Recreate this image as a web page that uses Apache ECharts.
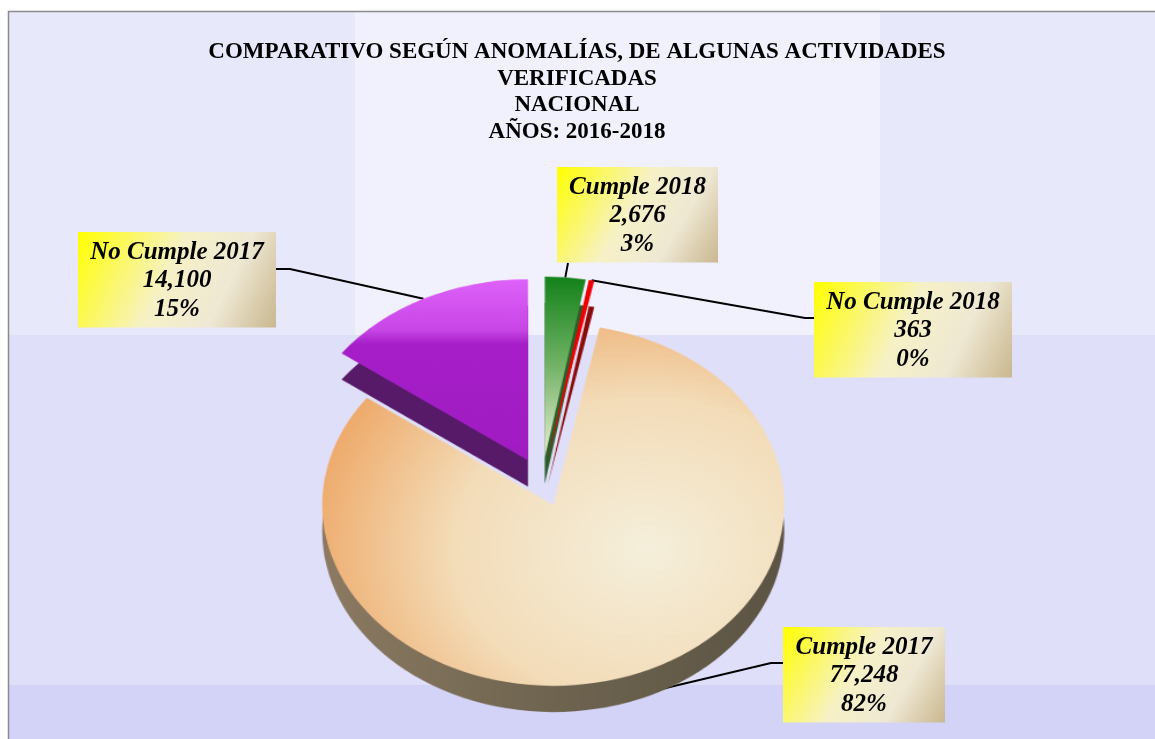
<!DOCTYPE html>
<html>
<head>
<meta charset="utf-8">
<script src="https://cdn.jsdelivr.net/npm/echarts@6/dist/echarts.min.js"></script>
<style>
  html, body { margin: 0; padding: 0; background: #fff; }
  #wrap { position: relative; width: 1155px; height: 739px; overflow: hidden; }
  #chartBg, #chartPie { position: absolute; left: 0; top: 0; width: 1155px; height: 739px; }
  /* el pastel se aplasta para dar la vista en perspectiva */
  #chartPie { transform-origin: 542px 482px; transform: scale(1.155, 0.905); pointer-events: none; }
</style>
</head>
<body>
<div id="wrap">
  <div id="chartBg"></div>
  <div id="chartPie"></div>
</div>
<script>
  // datos del grafico
  var titleLines = ['COMPARATIVO SEGÚN ANOMALÍAS, DE ALGUNAS ACTIVIDADES', 'VERIFICADAS', 'NACIONAL', 'AÑOS: 2016-2018'];
  var categories = ['Cumple 2018', 'No Cumple 2018', 'Cumple 2017', 'No Cumple 2017'];
  var values = [2676, 363, 77248, 14100];

  // geometria del pastel (en px)
  var center = [542, 482];
  var radius = 200;
  var offset = 27;
  var depth = 29;
  var scaleX = 1.155, scaleY = 0.905;

  // cajas de texto: [izq, arriba, ancho, alto]
  var boxes = [[557, 167, 161, 96], [814, 282, 198, 96], [783, 627, 162, 96], [78, 232, 198, 96]];

  var topColors = [
    new echarts.graphic.LinearGradient(0, 0, 0, 1, [
      { offset: 0, color: '#13821a' }, { offset: 0.5, color: '#74b468' }, { offset: 1, color: '#ecefd6' }
    ]),
    '#ee0000',
    new echarts.graphic.RadialGradient(0.7, 0.62, 0.85, [
      { offset: 0, color: '#f5efdb' }, { offset: 0.5, color: '#f3dcb8' }, { offset: 1, color: '#ec9a52' }
    ]),
    new echarts.graphic.LinearGradient(0, 0, 0, 1, [
      { offset: 0, color: '#de62fa' }, { offset: 0.28, color: '#c846e6' }, { offset: 0.36, color: '#a61ec8' }, { offset: 1, color: '#a01cc2' }
    ])
  ];
  var sideColors = ['#2c5e2c', '#8a0a0a',
    new echarts.graphic.LinearGradient(0, 0, 1, 0, [
      { offset: 0, color: '#8c7a62' }, { offset: 0.5, color: '#6e6450' }, { offset: 1, color: '#5c5444' }
    ]),
    '#561a68'
  ];

  var total = values.reduce(function (a, b) { return a + b; }, 0);

  function midAngle(i) {
    var cum = 0;
    for (var k = 0; k < i; k++) cum += values[k];
    return 90 - (cum + values[i] / 2) / total * 360;
  }

  // punto del borde de una rebanada, en coordenadas de pantalla
  function piePoint(i, theta, extraY) {
    var m = midAngle(i) * Math.PI / 180;
    var t = theta * Math.PI / 180;
    var lx = offset * Math.cos(m) + radius * Math.cos(t);
    var ly = -(offset * Math.sin(m) + radius * Math.sin(t)) + extraY;
    return [center[0] + lx * scaleX, center[1] + ly * scaleY];
  }

  function fmt(v) { return v.toLocaleString('en-US'); }

  // reparto de porcentajes enteros por el metodo del mayor residuo
  function roundPercents(vals) {
    var raw = vals.map(function (v) { return v / total * 100; });
    var fl = raw.map(Math.floor);
    var left = 100 - fl.reduce(function (a, b) { return a + b; }, 0);
    var order = raw.map(function (r, i) { return i; }).sort(function (a, b) {
      return (raw[b] - fl[b]) - (raw[a] - fl[a]);
    });
    for (var k = 0; k < left; k++) fl[order[k]] += 1;
    return fl;
  }

  var bgChart = echarts.init(document.getElementById('chartBg'));
  var pieChart = echarts.init(document.getElementById('chartPie'));

  var labelBg = new echarts.graphic.LinearGradient(0, 0, 1, 1, [
    { offset: 0, color: '#ffff00' }, { offset: 0.45, color: '#f6f1c6' }, { offset: 0.72, color: '#eee8d4' }, { offset: 1, color: '#c9b78f' }
  ]);

  function buildLabels(pcts) {
    var els = [];
    categories.forEach(function (c, i) {
      var b = boxes[i];
      var a;
      var pts;
      if (i === 2) {
        a = piePoint(i, midAngle(i) - 2, depth - 6);
        pts = [a, [b[0] - 12, b[1] + 36], [b[0], b[1] + 36]];
      } else if (i === 0) {
        a = piePoint(i, midAngle(i), 0);
        pts = [a, [b[0] + 11, b[1] + b[3]]];
      } else if (i === 1) {
        a = piePoint(i, midAngle(i), 0);
        pts = [a, [b[0] - 9, b[1] + 36], [b[0], b[1] + 36]];
      } else {
        a = piePoint(i, midAngle(i), 0);
        pts = [a, [b[0] + b[2] + 14, b[1] + 37], [b[0] + b[2], b[1] + 37]];
      }
      els.push({
        type: 'polyline', z: 5, silent: true,
        shape: { points: pts },
        style: { stroke: '#000', lineWidth: 2, fill: null }
      });
      els.push({
        type: 'text', z: 6, silent: true,
        style: {
          text: c + '\n' + fmt(values[i]) + '\n' + pcts[i] + '%',
          x: b[0] + b[2] / 2,
          y: b[1],
          align: 'center',
          verticalAlign: 'top',
          width: b[2] - 20,
          padding: [6, 10, 4, 10],
          lineHeight: 28.5,
          fontFamily: 'Liberation Serif',
          fontStyle: 'italic',
          fontWeight: 'bold',
          fontSize: 25,
          fill: '#000',
          backgroundColor: labelBg
        }
      });
    });
    return els;
  }

  var bgOption = {
    backgroundColor: '#ffffff',
    animation: false,
    title: {
      text: titleLines.join('\n'),
      left: 572,
      top: 34,
      textAlign: 'center',
      textStyle: {
        fontFamily: 'Liberation Serif',
        fontWeight: 'bold',
        fontSize: 23,
        lineHeight: 26.5,
        color: '#000'
      }
    },
    graphic: [
      { type: 'rect', z: -10, silent: true, shape: { x: 8, y: 11, width: 1147, height: 728 }, style: { fill: '#e8e8fb' } },
      { type: 'rect', z: -9, silent: true, shape: { x: 355, y: 12, width: 525, height: 323 }, style: { fill: '#f1f1fd' } },
      { type: 'rect', z: -9, silent: true, shape: { x: 8, y: 335, width: 1147, height: 350 }, style: { fill: '#dfdff9' } },
      { type: 'rect', z: -9, silent: true, shape: { x: 8, y: 685, width: 1147, height: 54 }, style: { fill: '#d3d3f7' } },
      { type: 'rect', z: -8, silent: true, shape: { x: 8.5, y: 11.5, width: 1160, height: 740 }, style: { fill: null, stroke: '#8a8a8a', lineWidth: 1.5 } }
    ].concat(buildLabels(roundPercents(values)))
  };

  var pieOption = {
    backgroundColor: 'transparent',
    animation: false,
    series: [
      {
        // costado (efecto 3D)
        name: 'costado',
        type: 'pie',
        silent: true,
        z: 1,
        center: [center[0], center[1] + depth],
        radius: radius,
        startAngle: 90,
        selectedMode: 'multiple',
        selectedOffset: offset,
        label: { show: false },
        labelLine: { show: false },
        data: categories.map(function (c, i) {
          return { name: c, value: values[i], selected: true, itemStyle: { color: sideColors[i] } };
        })
      },
      {
        name: 'anomalias',
        type: 'pie',
        silent: true,
        z: 2,
        center: center,
        radius: radius,
        startAngle: 90,
        selectedMode: 'multiple',
        selectedOffset: offset,
        label: { show: false },
        labelLine: { show: false },
        data: categories.map(function (c, i) {
          return { name: c, value: values[i], selected: true, itemStyle: { color: topColors[i] } };
        })
      }
    ]
  };

  bgChart.setOption(bgOption, true);
  pieChart.setOption(pieOption, true);
</script>
</body>
</html>
